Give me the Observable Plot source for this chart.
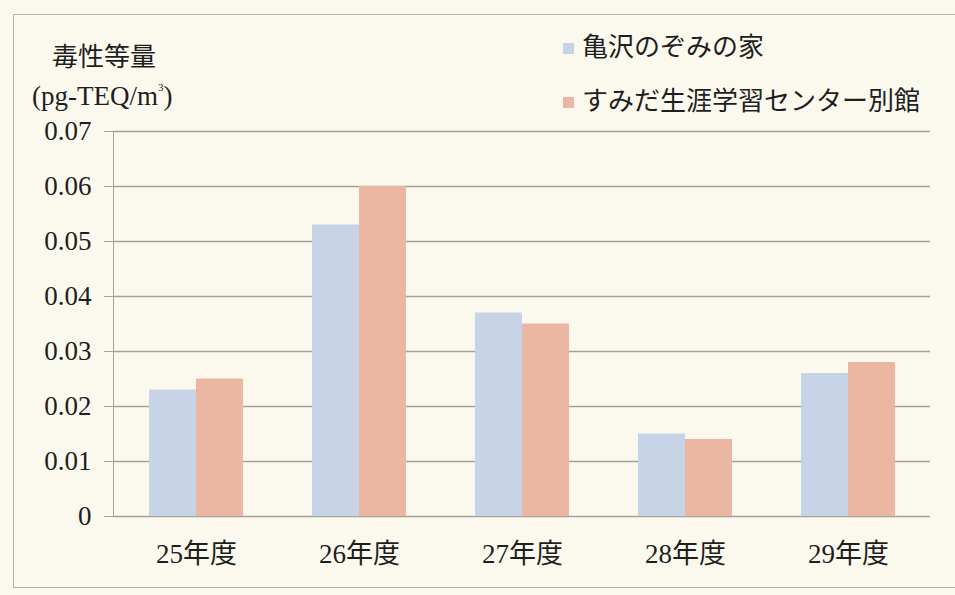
<!DOCTYPE html>
<html>
<head>
<meta charset="utf-8">
<script src="https://cdn.jsdelivr.net/npm/d3@7"></script>
<script src="https://cdn.jsdelivr.net/npm/@observablehq/plot@0.6"></script>
<style>
  html, body { margin: 0; padding: 0; background: #fbf9ee; }
  #wrap { position: relative; width: 955px; height: 595px; overflow: hidden;
          font-family: "Liberation Serif", "DejaVu Serif", "Noto Sans CJK JP", serif; color: #1e1e1e; }
  #frame { position: absolute; left: 13px; top: 14px; width: 1000px; height: 574px;
           border: 1.5px solid #b3b1a8; box-sizing: border-box; }
  #chart { position: absolute; left: 0; top: 0; }
  #chart svg text { fill: #1e1e1e; font-family: "Liberation Serif", "DejaVu Serif", "Noto Sans CJK JP", serif; }
  .ytitle1 { position: absolute; left: 52px; top: 44px; font-size: 26px; line-height: 28px; white-space: nowrap; }
  .ytitle2 { position: absolute; left: 32px; top: 84px; font-size: 27px; line-height: 24px; white-space: nowrap; }
  .legend { position: absolute; left: 563px; font-size: 26px; line-height: 32px; white-space: nowrap; }
  .legend .sw { display: inline-block; width: 11px; height: 11px; margin-right: 8px; vertical-align: middle; position: relative; top: -2px; }
</style>
</head>
<body>
<div id="wrap">
  <div id="frame"></div>
  <div id="chart"></div>
  <div class="ytitle1">毒性等量</div>
  <div class="ytitle2">(pg-TEQ/m<sup style="font-size:11px;line-height:0;vertical-align:14px;">3</sup>)</div>
  <div id="legend"></div>
</div>
<script>
const years = ["25年度", "26年度", "27年度", "28年度", "29年度"];
const seriesNames = ["亀沢のぞみの家", "すみだ生涯学習センター別館"];
const kamezawa = [0.023, 0.053, 0.037, 0.015, 0.026];
const sumida = [0.025, 0.060, 0.035, 0.014, 0.028];
const yTicks = [0, 0.01, 0.02, 0.03, 0.04, 0.05, 0.06, 0.07];
const seriesColors = ["#c7d3e7", "#ebb6a2"];

const rowsA = years.map((y, i) => ({year: y, series: seriesNames[0], value: kamezawa[i]}));
const rowsB = years.map((y, i) => ({year: y, series: seriesNames[1], value: sumida[i]}));

const W = 955, H = 595;
const mL = 113, mR = 25, mT = 131, mB = 79;
const padInner = 0.425;
const step = (W - mL - mR) / years.length;
const half = step * (1 - padInner) / 2;

const chart = Plot.plot({
  width: W,
  height: H,
  marginLeft: mL,
  marginRight: mR,
  marginTop: mT,
  marginBottom: mB,
  style: {background: "transparent", color: "#a4a29a", fontSize: "27px",
          fontFamily: "'Liberation Serif', 'DejaVu Serif', 'Noto Sans CJK JP', serif"},
  x: {domain: years, paddingInner: padInner, paddingOuter: padInner / 2,
      tickSize: 0, tickPadding: 27, label: null},
  y: {domain: [0, 0.07], ticks: yTicks, tickSize: 9, tickPadding: 13,
      tickFormat: d => d === 0 ? "0" : d.toFixed(2), line: true, label: null},
  color: {domain: seriesNames, range: seriesColors},
  marks: [
    Plot.ruleY(yTicks, {stroke: "#a4a29a", strokeWidth: 1.3}),
    Plot.barY(rowsA, {x: "year", y: "value", fill: "series", insetRight: half}),
    Plot.barY(rowsB, {x: "year", y: "value", fill: "series", insetLeft: half})
  ]
});
document.getElementById("chart").appendChild(chart);

const legend = document.getElementById("legend");
seriesNames.forEach((name, i) => {
  const d = document.createElement("div");
  d.className = "legend";
  d.style.top = (32 + i * 54) + "px";
  d.innerHTML = `<span class="sw" style="background:${seriesColors[i]}"></span>${name}`;
  legend.appendChild(d);
});
</script>
</body>
</html>
